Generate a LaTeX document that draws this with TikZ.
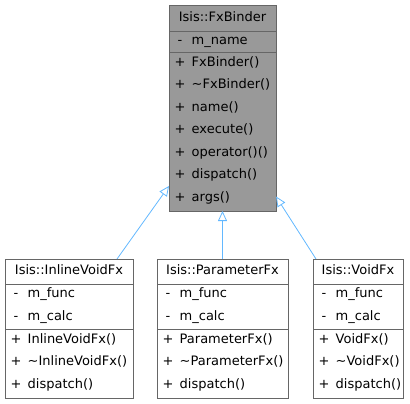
\documentclass[tikz,border=0pt]{standalone}
\usepackage{fontspec}
\setmainfont{DejaVu Sans}
\usetikzlibrary{arrows.meta,calc}
\definecolor{boxline}{RGB}{102,102,102}
\definecolor{topfill}{RGB}{153,153,153}
\definecolor{inh}{RGB}{99,184,255}
\begin{document}
\begin{tikzpicture}[x=1pt,y=-1pt,
  box/.style={draw=boxline,line width=0.8pt,rectangle,anchor=north west,inner sep=0pt,outer sep=0pt},
  sep/.style={draw=boxline,line width=0.8pt},
  txt/.style={inner sep=0pt,anchor=mid west,font=\fontsize{13}{15}\selectfont},
  sym/.style={inner sep=0pt,anchor=mid,font=\fontsize{13}{15}\selectfont},
  ttl/.style={inner sep=0pt,anchor=mid,font=\fontsize{13}{15}\selectfont},
  inherit/.style={draw=inh,line width=0.8pt,-{Triangle[open,length=10pt,width=9pt]}}]
\useasboundingbox (0,0) rectangle (410,404);
% top class
\node[box,fill=topfill,minimum width=107pt,minimum height=206pt] (top) at (169,5) {};
\draw[sep] (169,31) -- (276,31);
\draw[sep] (169,52) -- (276,52);
\node[ttl] (tt) at (222.5,18.5) {Isis::FxBinder};
\node[sym] (ts1) at (180,42) {-};
\node[txt] (ta1) at (191.5,42) {m\_name};
\foreach \i/\t in {0/FxBinder(),1/\textasciitilde FxBinder(),2/name(),3/execute(),4/operator()(),5/dispatch(),6/args()}{
  \node[sym] (tps\i) at (180,63.5+22.5*\i) {+};
  \node[txt] (tm\i) at (191.5,63.5+22.5*\i) {\t};
}
% lower classes
\node[box,fill=white,minimum width=128pt,minimum height=139pt] (inl) at (5,259) {};
\node[box,fill=white,minimum width=131pt,minimum height=139pt] (par) at (157,259) {};
\node[box,fill=white,minimum width=90pt,minimum height=139pt] (vfx) at (313,259) {};
\foreach \L/\W/\T/\N in {5/128/Isis::InlineVoidFx/InlineVoidFx,157/131/Isis::ParameterFx/ParameterFx,313/90/Isis::VoidFx/VoidFx}{
  \draw[sep] (\L,284) -- ({\L+\W},284);
  \draw[sep] (\L,329) -- ({\L+\W},329);
  \node[ttl] at ({\L+\W/2},272) {\T};
  \node[sym] at ({\L+11},295) {-};
  \node[txt] at ({\L+22.5},295) {m\_func};
  \node[sym] at ({\L+11},318) {-};
  \node[txt] at ({\L+22.5},318) {m\_calc};
  \node[sym] at ({\L+11},340.5) {+};
  \node[txt] at ({\L+22.5},340.5) {\N()};
  \node[sym] at ({\L+11},363) {+};
  \node[txt] at ({\L+22.5},363) {\textasciitilde\N()};
  \node[sym] at ({\L+11},385.5) {+};
  \node[txt] at ({\L+22.5},385.5) {dispatch()};
}
% inheritance
\draw[inherit] ([xshift=112pt]inl.north west) -- ([yshift=25pt]top.south west);
\draw[inherit] (par.north) -- (top.south);
\draw[inherit] ([xshift=3pt]vfx.north west) -- ([yshift=14.5pt]top.south east);
\end{tikzpicture}
\end{document}
